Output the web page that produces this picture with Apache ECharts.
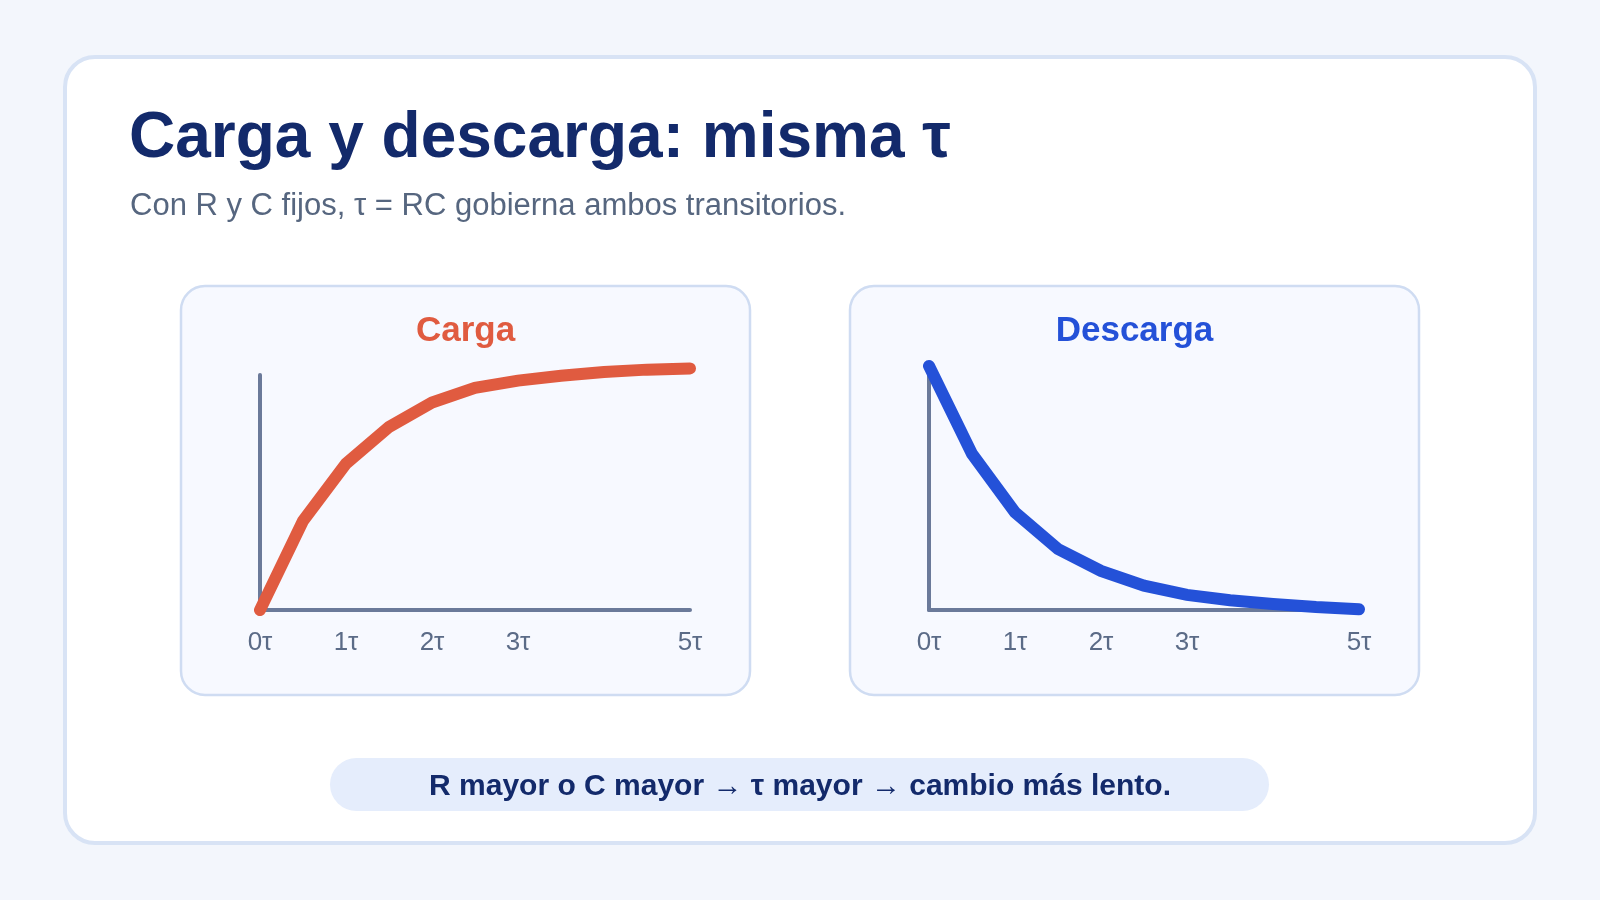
<!DOCTYPE html>
<html>
<head>
<meta charset="utf-8">
<script src="https://cdn.jsdelivr.net/npm/echarts@6/dist/echarts.min.js"></script>
<style>
html,body{margin:0;padding:0;background:#f3f6fc;}
#chart{width:1600px;height:900px;}
</style>
</head>
<body>
<div id="chart"></div>
<script>
// Data
const tValues = [0, 0.5, 1, 1.5, 2, 2.5, 3, 3.5, 4, 4.5, 5];
const chargeValues = [0, 0.365, 0.60, 0.75, 0.85, 0.91, 0.94, 0.96, 0.975, 0.985, 0.99];
const dischargeValues = [1.0, 0.64, 0.40, 0.25, 0.16, 0.10, 0.062, 0.04, 0.025, 0.012, 0.003];
const tickValues = [0, 1, 2, 3, 5];
const tickSuffix = 'τ';
const titleText = 'Carga y descarga: misma τ';
const subtitleText = 'Con R y C fijos, τ = RC gobierna ambos transitorios.';
const panelTitles = ['Carga', 'Descarga'];
const noteText = 'R mayor o C mayor → τ mayor → cambio más lento.';

const FONT = '"Liberation Sans", Arial, Helvetica, sans-serif';
const AXIS_COLOR = '#6b7a9a';
const LABEL_COLOR = '#5b6b87';
const Y_MAX = 0.963;

const chart = echarts.init(document.getElementById('chart'), null, {renderer: 'canvas'});

function makeX(gridIndex) {
  return {
    type: 'value', gridIndex, min: 0, max: 5, interval: 1,
    axisLine: {show: true, onZero: false, lineStyle: {color: AXIS_COLOR, width: 4}},
    axisTick: {show: false},
    splitLine: {show: false},
    axisLabel: {
      show: true, margin: 20, color: LABEL_COLOR, fontSize: 26, fontFamily: FONT,
      formatter: v => tickValues.includes(v) ? (v + tickSuffix) : ''
    }
  };
}
function makeY(gridIndex) {
  return {
    type: 'value', gridIndex, min: 0, max: Y_MAX,
    axisLine: {show: true, onZero: false, lineStyle: {color: AXIS_COLOR, width: 4}},
    axisTick: {show: false},
    splitLine: {show: false},
    axisLabel: {show: false}
  };
}
function makeSeries(idx, values, color) {
  return {
    type: 'line', xAxisIndex: idx, yAxisIndex: idx,
    data: tValues.map((t, i) => [t, values[i]]),
    showSymbol: false, symbol: 'none', smooth: false, clip: false,
    lineStyle: {color, width: 12, cap: 'round', join: 'miter'},
    z: 5
  };
}

chart.setOption({
  animation: false,
  backgroundColor: '#f3f6fc',
  grid: [
    {left: 260, top: 375, width: 430, height: 235, containLabel: false},
    {left: 929, top: 375, width: 430, height: 235, containLabel: false}
  ],
  xAxis: [makeX(0), makeX(1)],
  yAxis: [makeY(0), makeY(1)],
  series: [
    makeSeries(0, chargeValues, '#e05b40'),
    makeSeries(1, dischargeValues, '#2451d8')
  ],
  graphic: [
    {type: 'rect', z: -10, shape: {x: 65, y: 57, width: 1470, height: 786, r: 30},
      style: {fill: '#ffffff', stroke: '#d8e3f5', lineWidth: 4}},
    {type: 'rect', z: -9, shape: {x: 181, y: 286, width: 569, height: 409, r: 24},
      style: {fill: '#f7f9ff', stroke: '#cfdcf2', lineWidth: 2.5}},
    {type: 'rect', z: -9, shape: {x: 850, y: 286, width: 569, height: 409, r: 24},
      style: {fill: '#f7f9ff', stroke: '#cfdcf2', lineWidth: 2.5}},
    {type: 'rect', z: -9, shape: {x: 330, y: 758, width: 939, height: 53, r: 26.5},
      style: {fill: '#e5edfc'}},
    {type: 'text', z: 10, x: 129, y: 139,
      style: {text: titleText, fill: '#132a6b', font: 'bold 64px ' + FONT, textAlign: 'left', textVerticalAlign: 'middle'}},
    {type: 'text', z: 10, x: 130, y: 206,
      style: {text: subtitleText, fill: '#56667f', font: '31px ' + FONT, textAlign: 'left', textVerticalAlign: 'middle'}},
    {type: 'text', z: 10, x: 465.5, y: 331,
      style: {text: panelTitles[0], fill: '#e05b40', font: 'bold 35px ' + FONT, textAlign: 'center', textVerticalAlign: 'middle'}},
    {type: 'text', z: 10, x: 1134.5, y: 331,
      style: {text: panelTitles[1], fill: '#2451d8', font: 'bold 35px ' + FONT, textAlign: 'center', textVerticalAlign: 'middle'}},
    {type: 'text', z: 10, x: 800, y: 787,
      style: {text: noteText, fill: '#132a6b', font: 'bold 30px ' + FONT, textAlign: 'center', textVerticalAlign: 'middle'}}
  ]
});
</script>
</body>
</html>
